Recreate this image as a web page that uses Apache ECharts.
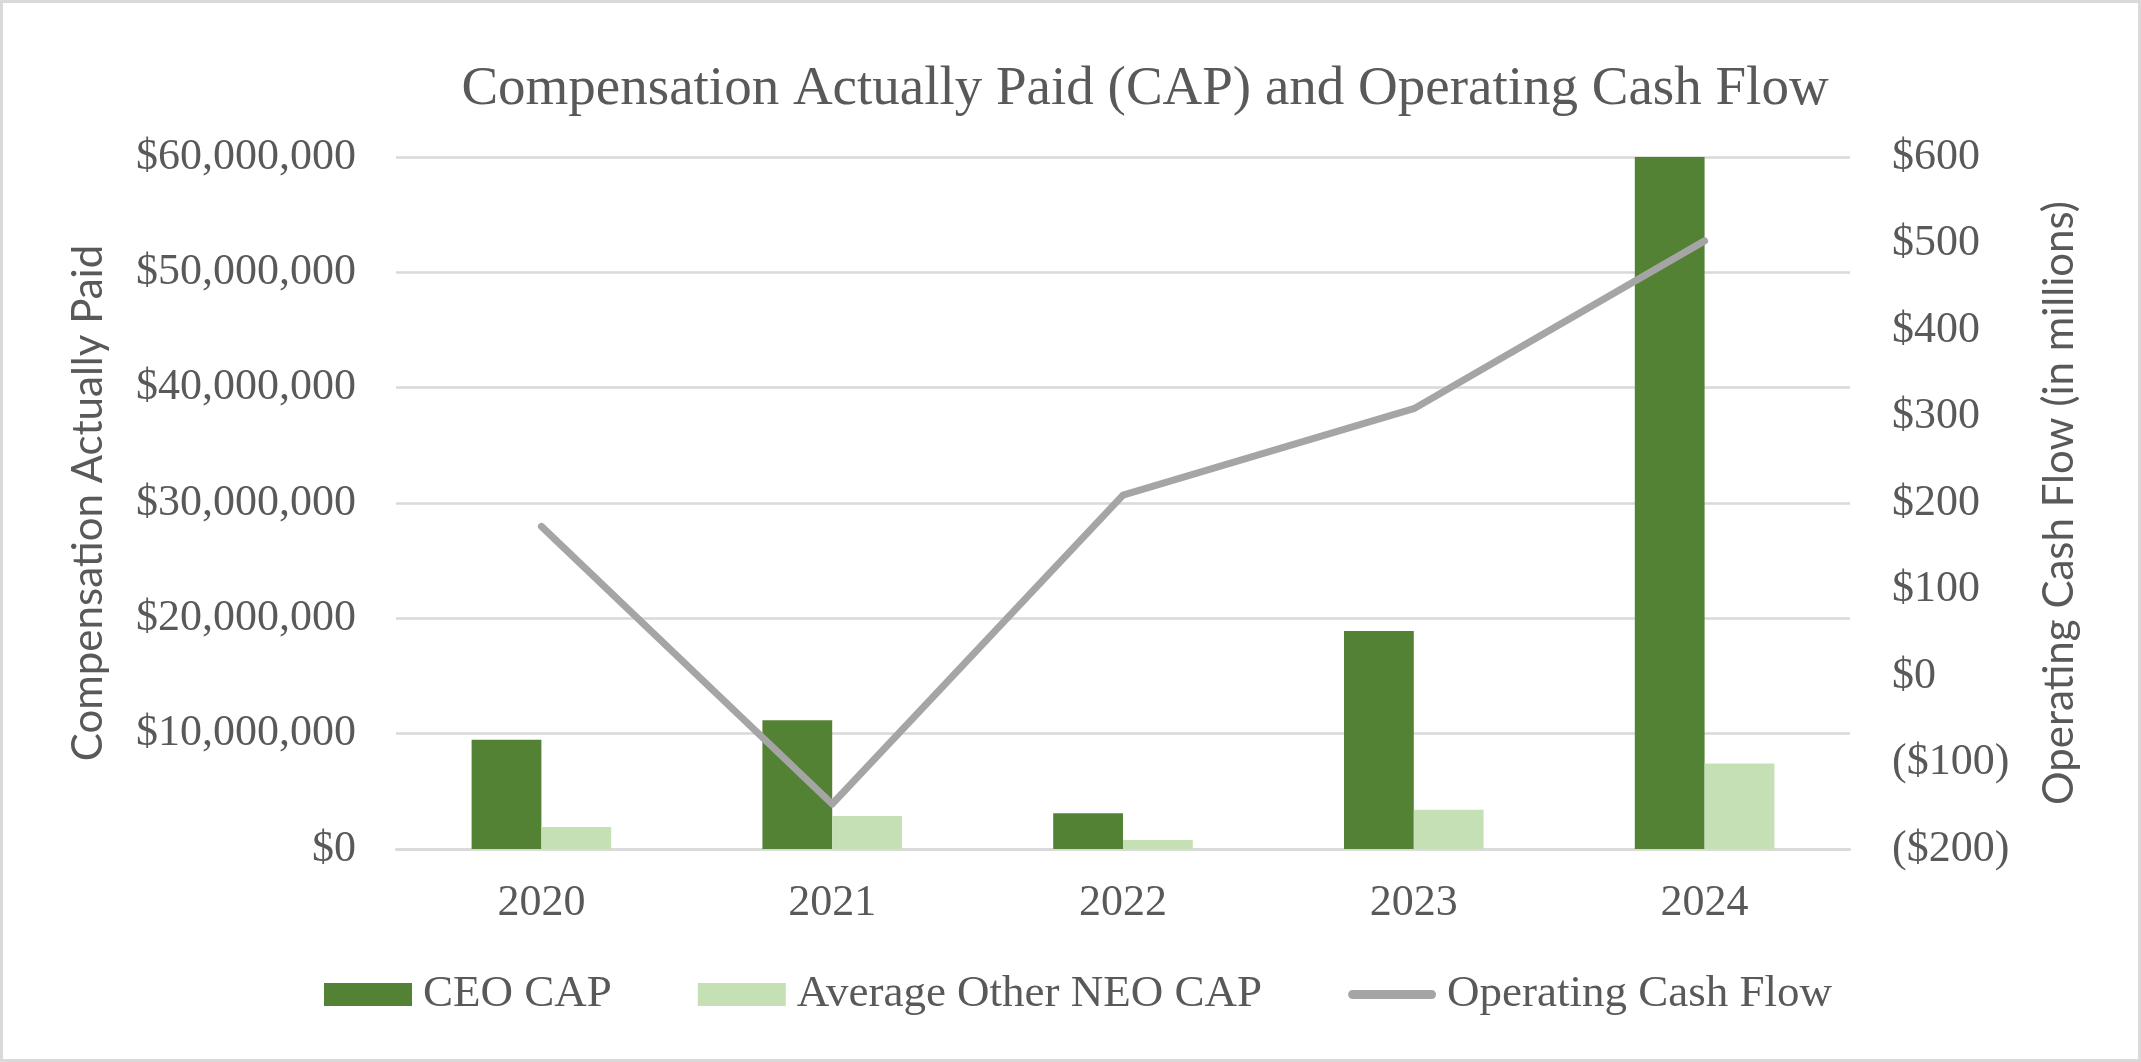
<!DOCTYPE html>
<html>
<head>
<meta charset="utf-8">
<script src="https://cdn.jsdelivr.net/npm/echarts@6/dist/echarts.min.js"></script>
<style>
html,body{margin:0;padding:0;background:#fff;}
#chart{width:2141px;height:1062px;}
</style>
</head>
<body>
<div id="chart"></div>
<script>
const categories = ['2020', '2021', '2022', '2023', '2024'];
const ceoCap = [9480000, 11160000, 3100000, 18900000, 60000000];
const neoCap = [1900000, 2860000, 780000, 3400000, 7420000];
const operatingCashFlow = [173, -148, 209, 309, 503];
const leftTicks = { min: 0, max: 60000000, interval: 10000000 };
const rightTicks = { min: -200, max: 600, interval: 100 };

const serif = '"Liberation Serif", "Times New Roman", serif';
const sans = 'Lato, "Open Sans", sans-serif';
const txt = '#595959';

const chart = echarts.init(document.getElementById('chart'));
chart.setOption({
  animation: false,
  backgroundColor: '#ffffff',
  graphic: [
    { type: 'rect', shape: { x: 1.5, y: 1.5, width: 2138, height: 1059 },
      style: { fill: 'none', stroke: '#D9D9D9', lineWidth: 3 }, silent: true },
    { type: 'text', x: 1145, y: 90,
      style: { text: 'Compensation Actually Paid (CAP) and Operating Cash Flow',
        font: '55px ' + serif, fill: txt, align: 'center', verticalAlign: 'middle' } }
  ],
  grid: { left: 396, right: 291, top: 157, bottom: 213, containLabel: false },
  legend: {
    left: 319, top: 967,
    itemWidth: 88, itemHeight: 23, itemGap: 86,
    textStyle: { fontFamily: serif, fontSize: 45, color: txt, padding: [0, 0, 0, 6] },
    data: [
      { name: 'CEO CAP', icon: 'rect' },
      { name: 'Average Other NEO CAP', icon: 'rect' },
      { name: 'Operating Cash Flow',
        icon: 'path://M5,0 H92 A5,5 0 0 1 92,10 H5 A5,5 0 0 1 5,0 Z',
        itemStyle: { color: '#A5A5A5' } }
    ]
  },
  xAxis: {
    type: 'category', data: categories,
    axisLine: { show: true, lineStyle: { color: '#D9D9D9', width: 2.5 } },
    axisTick: { show: false },
    axisLabel: { fontFamily: serif, fontSize: 44, color: txt, margin: 32 }
  },
  yAxis: [
    {
      type: 'value', min: leftTicks.min, max: leftTicks.max, interval: leftTicks.interval,
      position: 'left',
      name: 'Compensation Actually Paid', nameLocation: 'middle', nameRotate: 90, nameGap: 287,
      nameTextStyle: { fontFamily: sans, fontSize: 42, color: txt },
      axisLine: { show: false }, axisTick: { show: false },
      axisLabel: { fontFamily: serif, fontSize: 44, color: txt, margin: 40,
        formatter: v => '$' + v.toLocaleString('en-US') },
      splitLine: { lineStyle: { color: '#D9D9D9', width: 2.5 } }
    },
    {
      type: 'value', min: rightTicks.min, max: rightTicks.max, interval: rightTicks.interval,
      position: 'right',
      name: 'Operating Cash Flow (in millions)', nameLocation: 'middle', nameRotate: 90, nameGap: 188,
      nameTextStyle: { fontFamily: sans, fontSize: 42, color: txt },
      axisLine: { show: false }, axisTick: { show: false },
      axisLabel: { fontFamily: serif, fontSize: 44, color: txt, margin: 42,
        formatter: v => v < 0 ? '($' + Math.abs(v) + ')' : '$' + v },
      splitLine: { show: false }
    }
  ],
  series: [
    { name: 'CEO CAP', type: 'bar', data: ceoCap, barWidth: '24%', barGap: '0%',
      itemStyle: { color: '#548235' } },
    { name: 'Average Other NEO CAP', type: 'bar', data: neoCap, barWidth: '24%', barGap: '0%',
      itemStyle: { color: '#C5E0B4' } },
    { name: 'Operating Cash Flow', type: 'line', yAxisIndex: 1, data: operatingCashFlow,
      symbol: 'none', lineStyle: { color: '#A5A5A5', width: 7, cap: 'round', join: 'round' },
      itemStyle: { color: '#A5A5A5' }, z: 5 }
  ]
});
</script>
</body>
</html>
